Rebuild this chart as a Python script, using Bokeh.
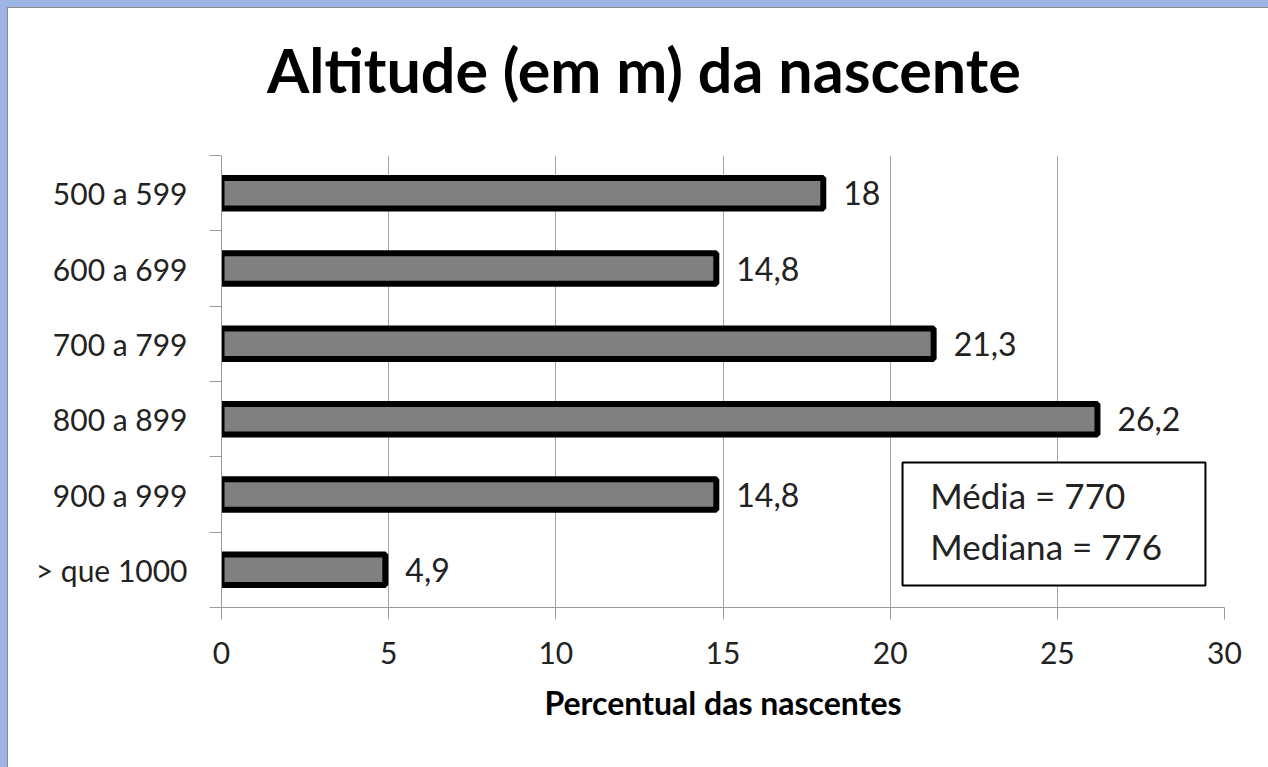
from bokeh.plotting import figure
from bokeh.models import Range1d, FixedTicker, BoxAnnotation, Label, Div
from bokeh.layouts import column
from bokeh.embed import file_html
from bokeh.resources import INLINE
from bokeh.core.properties import value

categories = ["500 a 599", "600 a 699", "700 a 799", "800 a 899", "900 a 999", "> que 1000"]
percent = [18, 14.8, 21.3, 26.2, 14.8, 4.9]
percent_labels = ["18", "14,8", "21,3", "26,2", "14,8", "4,9"]
x_ticks = [0, 5, 10, 15, 20, 25, 30]
title_text = "Altitude (em m) da nascente"
x_label = "Percentual das nascentes"
stats_lines = ["Média = 770", "Mediana = 776"]

FONT = "Lato"
n = len(categories)
centers = [i + 0.5 for i in range(n)]
bounds = [float(i) for i in range(n + 1)]

TITLE_H = 110
title_div = Div(
    text=('<div style="font-family:Lato;font-weight:bold;font-size:61px;line-height:61px;'
          'color:black;padding:31px 0 0 259px;white-space:nowrap;">' + title_text + '</div>'),
    width=1260, height=TITLE_H, margin=0, styles={"background-color": "white"})

p = figure(width=1260, height=759 - TITLE_H, output_backend="svg", toolbar_location=None,
           x_range=Range1d(0, 30), y_range=Range1d(n, 0), margin=0,
           min_border_left=213, min_border_right=44, min_border_top=147 - TITLE_H,
           min_border_bottom=160)
p.background_fill_color = "white"
p.border_fill_color = "white"
p.outline_line_color = None

# x axis
p.xaxis.ticker = FixedTicker(ticks=x_ticks, minor_ticks=[])
p.xaxis.axis_line_color = "#9a9a9a"
p.xaxis.major_tick_line_color = "#9a9a9a"
p.xaxis.major_tick_out = 12
p.xaxis.major_tick_in = 0
p.xaxis.minor_tick_line_color = None
p.xaxis.major_label_text_font = FONT
p.xaxis.major_label_text_font_size = "30px"
p.xaxis.major_label_text_color = "#222222"
p.xaxis.major_label_standoff = 22
p.xaxis.axis_label = x_label
p.xaxis.axis_label_text_font = FONT
p.xaxis.axis_label_text_font_size = "32px"
p.xaxis.axis_label_text_font_style = "bold"
p.xaxis.axis_label_text_color = "black"
p.xaxis.axis_label_standoff = 16

# y axis: labels at centers, ticks at category boundaries
p.yaxis.ticker = FixedTicker(ticks=centers, minor_ticks=bounds)
p.yaxis.major_label_overrides = {c: lab for c, lab in zip(centers, categories)}
p.yaxis.major_tick_line_color = None
p.yaxis.minor_tick_line_color = "#9a9a9a"
p.yaxis.minor_tick_out = 12
p.yaxis.minor_tick_in = 0
p.yaxis.axis_line_color = "#9a9a9a"
p.yaxis.major_label_text_font = FONT
p.yaxis.major_label_text_font_size = "30px"
p.yaxis.major_label_text_color = "#222222"
p.yaxis.major_label_standoff = 22

p.xgrid.ticker = FixedTicker(ticks=x_ticks)
p.xgrid.grid_line_color = "#a6a6a6"
p.ygrid.grid_line_color = None

p.hbar(y=centers, left=0, right=percent, height=0.405,
       fill_color="#808080", line_color="black", line_width=6)

p.text(x=percent, y=centers, text=percent_labels, x_offset=20,
       text_align="left", text_baseline="middle",
       text_font=value(FONT), text_font_size="32px", text_color="#222222")

box = BoxAnnotation(left=20.37, right=29.43, top=4.075, bottom=5.708,
                    fill_color="white", fill_alpha=1.0,
                    line_color="black", line_alpha=1.0, line_width=2)
p.add_layout(box)
for line, yy in zip(stats_lines, [4.51, 5.19]):
    p.add_layout(Label(x=21.2, y=yy, text=line, text_align="left", text_baseline="middle",
                       text_font=FONT, text_font_size="35px", text_color="#222222"))

layout = column(title_div, p, spacing=0)

html = file_html(layout, INLINE)
css = ("<style>html{background:#9db5e4 !important;overflow:hidden !important;}"
       "body{margin:7px 0 0 7px !important;padding:0 !important;height:auto !important;"
       "border-top:1px solid #8a8a8a;border-left:1px solid #8a8a8a;background:white;}</style>")
html = html.replace("</head>", css + "</head>", 1)
open("out.html", "w").write(html)
